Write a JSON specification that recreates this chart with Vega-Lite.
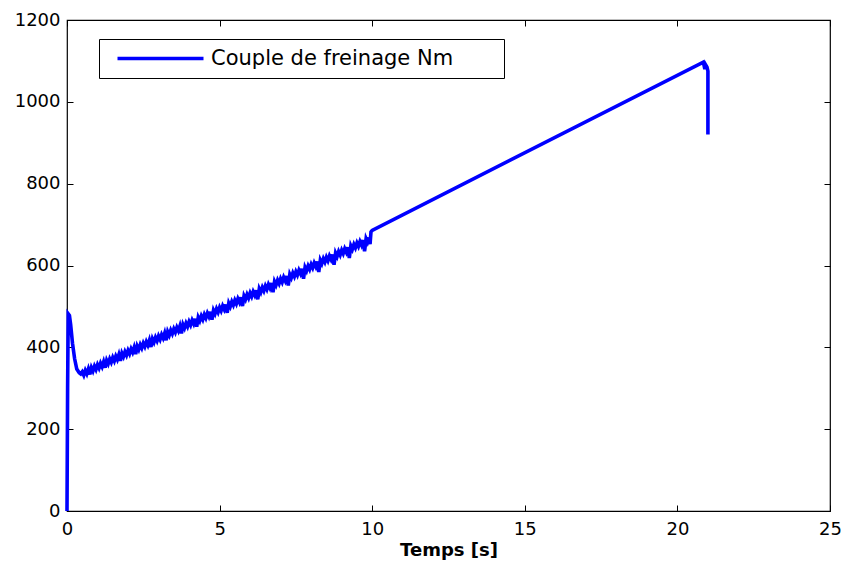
{
  "$schema": "https://vega.github.io/schema/vega-lite/v6.json",
  "autosize": "none",
  "width": 763,
  "height": 491,
  "padding": {"left": 67, "top": 20, "right": 16, "bottom": 54},
  "background": "white",
  "config": {
    "view": {"stroke": "black", "strokeWidth": 1.2},
    "font": "DejaVu Sans",
    "axis": {
      "grid": false,
      "domain": false,
      "tickColor": "black",
      "tickSize": -6,
      "labelFlush": false,
      "labelOverlap": false,
      "format": "d",
      "labelColor": "black",
      "labelFont": "DejaVu Sans",
      "labelFontSize": 18,
      "titleColor": "black",
      "titleFont": "DejaVu Sans",
      "titleFontWeight": "bold",
      "titleFontSize": 18
    }
  },
  "data": {
    "values": [
      {"t": 0, "v": 0}, {"t": 0.02, "v": 300}, {"t": 0.04, "v": 482}, {"t": 0.08, "v": 478}, {"t": 0.12, "v": 455},
      {"t": 0.18, "v": 410}, {"t": 0.25, "v": 372}, {"t": 0.32, "v": 347}, {"t": 0.4, "v": 338}, {"t": 0.45, "v": 335},
      {"t": 0.5, "v": 340}, {"t": 0.55, "v": 331.8}, {"t": 0.6, "v": 343.5}, {"t": 0.65, "v": 335.3}, {"t": 0.7, "v": 347}, {"t": 0.75, "v": 333.8}, {"t": 0.8, "v": 350.5}, {"t": 0.85, "v": 342.3}, {"t": 0.9, "v": 354}, {"t": 0.95, "v": 345.8},
      {"t": 1.0, "v": 357.5}, {"t": 1.05, "v": 349.3}, {"t": 1.1, "v": 361}, {"t": 1.15, "v": 352.8}, {"t": 1.2, "v": 364.5}, {"t": 1.25, "v": 350.3}, {"t": 1.3, "v": 368}, {"t": 1.35, "v": 359.8}, {"t": 1.4, "v": 371.5}, {"t": 1.45, "v": 363.3},
      {"t": 1.5, "v": 375}, {"t": 1.55, "v": 366.8}, {"t": 1.6, "v": 378.5}, {"t": 1.65, "v": 370.3}, {"t": 1.7, "v": 382}, {"t": 1.75, "v": 366.8}, {"t": 1.8, "v": 385.5}, {"t": 1.85, "v": 377.3}, {"t": 1.9, "v": 389}, {"t": 1.95, "v": 380.8},
      {"t": 2.0, "v": 392.5}, {"t": 2.05, "v": 384.3}, {"t": 2.1, "v": 396}, {"t": 2.15, "v": 387.8}, {"t": 2.2, "v": 399.5}, {"t": 2.25, "v": 383.3}, {"t": 2.3, "v": 403}, {"t": 2.35, "v": 394.8}, {"t": 2.4, "v": 406.5}, {"t": 2.45, "v": 398.3},
      {"t": 2.5, "v": 410}, {"t": 2.55, "v": 401.8}, {"t": 2.6, "v": 413.5}, {"t": 2.65, "v": 405.3}, {"t": 2.7, "v": 417}, {"t": 2.75, "v": 400.8}, {"t": 2.8, "v": 420.5}, {"t": 2.85, "v": 412.3}, {"t": 2.9, "v": 424}, {"t": 2.95, "v": 415.8},
      {"t": 3.0, "v": 427.5}, {"t": 3.05, "v": 419.3}, {"t": 3.1, "v": 431}, {"t": 3.15, "v": 422.8}, {"t": 3.2, "v": 434.5}, {"t": 3.25, "v": 417.3}, {"t": 3.3, "v": 438}, {"t": 3.35, "v": 429.8}, {"t": 3.4, "v": 441.5}, {"t": 3.45, "v": 433.3},
      {"t": 3.5, "v": 445}, {"t": 3.55, "v": 436.8}, {"t": 3.6, "v": 448.5}, {"t": 3.65, "v": 440.3}, {"t": 3.7, "v": 452}, {"t": 3.75, "v": 433.8}, {"t": 3.8, "v": 455.5}, {"t": 3.85, "v": 447.3}, {"t": 3.9, "v": 459}, {"t": 3.95, "v": 450.8},
      {"t": 4.0, "v": 462.5}, {"t": 4.05, "v": 454.3}, {"t": 4.1, "v": 466}, {"t": 4.15, "v": 457.8}, {"t": 4.2, "v": 469.5}, {"t": 4.25, "v": 450.3}, {"t": 4.3, "v": 473}, {"t": 4.35, "v": 464.8}, {"t": 4.4, "v": 476.5}, {"t": 4.45, "v": 468.3},
      {"t": 4.5, "v": 480}, {"t": 4.55, "v": 471.8}, {"t": 4.6, "v": 483.5}, {"t": 4.65, "v": 475.3}, {"t": 4.7, "v": 487}, {"t": 4.75, "v": 467.8}, {"t": 4.8, "v": 490.5}, {"t": 4.85, "v": 482.3}, {"t": 4.9, "v": 494}, {"t": 4.95, "v": 485.8},
      {"t": 5.0, "v": 497.5}, {"t": 5.05, "v": 489.3}, {"t": 5.1, "v": 501}, {"t": 5.15, "v": 492.8}, {"t": 5.2, "v": 504.5}, {"t": 5.25, "v": 484.3}, {"t": 5.3, "v": 508}, {"t": 5.35, "v": 499.8}, {"t": 5.4, "v": 511.5}, {"t": 5.45, "v": 503.3},
      {"t": 5.5, "v": 515}, {"t": 5.55, "v": 506.8}, {"t": 5.6, "v": 518.5}, {"t": 5.65, "v": 510.3}, {"t": 5.7, "v": 522}, {"t": 5.75, "v": 500.8}, {"t": 5.8, "v": 525.5}, {"t": 5.85, "v": 517.3}, {"t": 5.9, "v": 529}, {"t": 5.95, "v": 520.8},
      {"t": 6.0, "v": 532.5}, {"t": 6.05, "v": 524.3}, {"t": 6.1, "v": 536}, {"t": 6.15, "v": 527.8}, {"t": 6.2, "v": 539.5}, {"t": 6.25, "v": 517.3}, {"t": 6.3, "v": 543}, {"t": 6.35, "v": 534.8}, {"t": 6.4, "v": 546.5}, {"t": 6.45, "v": 538.3},
      {"t": 6.5, "v": 550}, {"t": 6.55, "v": 541.8}, {"t": 6.6, "v": 553.5}, {"t": 6.65, "v": 545.3}, {"t": 6.7, "v": 557}, {"t": 6.75, "v": 534.8}, {"t": 6.8, "v": 560.5}, {"t": 6.85, "v": 552.3}, {"t": 6.9, "v": 564}, {"t": 6.95, "v": 555.8},
      {"t": 7.0, "v": 567.5}, {"t": 7.05, "v": 559.3}, {"t": 7.1, "v": 571}, {"t": 7.15, "v": 562.8}, {"t": 7.2, "v": 574.5}, {"t": 7.25, "v": 551.3}, {"t": 7.3, "v": 578}, {"t": 7.35, "v": 569.8}, {"t": 7.4, "v": 581.5}, {"t": 7.45, "v": 573.3},
      {"t": 7.5, "v": 585}, {"t": 7.55, "v": 576.8}, {"t": 7.6, "v": 588.5}, {"t": 7.65, "v": 580.3}, {"t": 7.7, "v": 592}, {"t": 7.75, "v": 567.8}, {"t": 7.8, "v": 595.5}, {"t": 7.85, "v": 587.3}, {"t": 7.9, "v": 599}, {"t": 7.95, "v": 590.8},
      {"t": 8.0, "v": 602.5}, {"t": 8.05, "v": 594.3}, {"t": 8.1, "v": 606}, {"t": 8.15, "v": 597.8}, {"t": 8.2, "v": 609.5}, {"t": 8.25, "v": 584.3}, {"t": 8.3, "v": 613}, {"t": 8.35, "v": 604.8}, {"t": 8.4, "v": 616.5}, {"t": 8.45, "v": 608.3},
      {"t": 8.5, "v": 620}, {"t": 8.55, "v": 611.8}, {"t": 8.6, "v": 623.5}, {"t": 8.65, "v": 615.3}, {"t": 8.7, "v": 627}, {"t": 8.75, "v": 601.8}, {"t": 8.8, "v": 630.5}, {"t": 8.85, "v": 622.3}, {"t": 8.9, "v": 634}, {"t": 8.95, "v": 625.8},
      {"t": 9.0, "v": 637.5}, {"t": 9.05, "v": 629.3}, {"t": 9.1, "v": 641}, {"t": 9.15, "v": 632.8}, {"t": 9.2, "v": 644.5}, {"t": 9.25, "v": 618.3}, {"t": 9.3, "v": 648}, {"t": 9.35, "v": 639.8}, {"t": 9.4, "v": 651.5}, {"t": 9.45, "v": 643.3},
      {"t": 9.5, "v": 655}, {"t": 9.55, "v": 646.8}, {"t": 9.6, "v": 658.5}, {"t": 9.65, "v": 650.3}, {"t": 9.7, "v": 662}, {"t": 9.75, "v": 634.8}, {"t": 9.8, "v": 665.5}, {"t": 9.85, "v": 657.3}, {"t": 9.9, "v": 668}, {"t": 9.93, "v": 652},
      {"t": 9.96, "v": 682}, {"t": 10.0, "v": 686},
      {"t": 20.85, "v": 1097}, {"t": 20.9, "v": 1080}, {"t": 20.93, "v": 1090}, {"t": 20.97, "v": 1085}, {"t": 21.0, "v": 1075}, {"t": 21.0, "v": 920}
    ]
  },
  "layer": [
    {
      "mark": {"type": "line", "strokeWidth": 3.6, "interpolate": "linear"},
      "encoding": {
        "x": {
          "field": "t", "type": "quantitative", "sort": null,
          "scale": {"domain": [0, 25], "nice": false, "zero": false},
          "axis": {"values": [0, 5, 10, 15, 20, 25], "title": "Temps [s]", "orient": "bottom", "labelPadding": 15, "titleFontWeight": "bold", "titlePadding": 3}
        },
        "y": {
          "field": "v", "type": "quantitative",
          "scale": {"domain": [0, 1200], "nice": false},
          "axis": {"values": [0, 200, 400, 600, 800, 1000, 1200], "title": null, "orient": "left", "labelPadding": 13}
        },
        "order": {"field": "t"},
        "color": {
          "datum": "Couple de freinage Nm",
          "type": "nominal",
          "scale": {"range": ["#0000ff"]},
          "legend": {
            "title": null,
            "orient": "none",
            "legendX": 32,
            "legendY": 19,
            "strokeColor": "black",
            "fillColor": "white",
            "padding": 9,
            "symbolType": "M-8.6,0H8.6M65.4,0",
            "symbolSize": 100,
            "symbolStrokeWidth": 3.6,
            "symbolOffset": 42,
            "labelOffset": 40,
            "labelFont": "DejaVu Sans",
            "labelFontSize": 21,
            "labelColor": "black",
            "labelLimit": 500
          }
        }
      }
    },
    {
      "mark": {"type": "line", "strokeOpacity": 0},
      "encoding": {
        "x": {"field": "t", "type": "quantitative", "axis": {"values": [0, 5, 10, 15, 20, 25], "labels": false, "title": null, "orient": "top"}},
        "y": {"field": "v", "type": "quantitative", "axis": {"values": [0, 200, 400, 600, 800, 1000, 1200], "labels": false, "title": null, "orient": "right"}}
      }
    }
  ],
  "resolve": {"axis": {"x": "independent", "y": "independent"}}
}
